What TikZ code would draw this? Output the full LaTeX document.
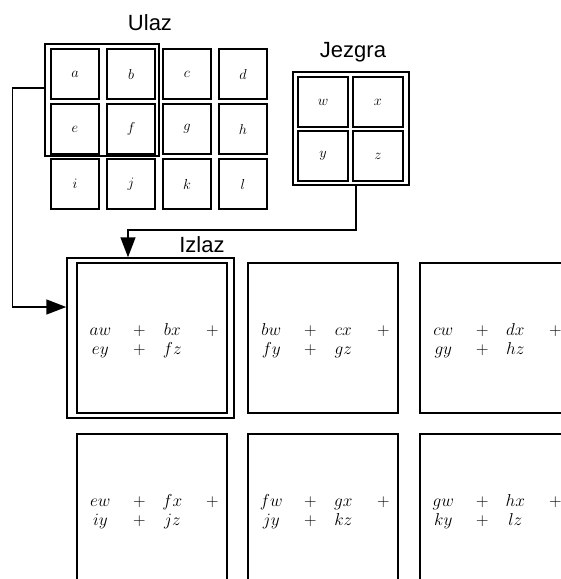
\documentclass[tikz,border=0pt]{standalone}
\usepackage{fontspec}
\newfontfamily\lblfont{Liberation Sans}
\usetikzlibrary{arrows.meta}
\newcommand{\outrow}[3]{\makebox[48pt]{$#1$}\makebox[30pt]{$+$}\makebox[36pt]{$#2$}\makebox[44pt]{$#3$}}
\tikzset{
  cellbox/.style={draw, line width=1.8pt, minimum width=48pt, minimum height=50pt, inner sep=0pt, font=\fontsize{14.5}{16}\selectfont},
  kcell/.style={cellbox, minimum width=50pt},
  framebox/.style={draw, line width=1.5pt, inner sep=0pt},
  outbox/.style={draw, line width=1.7pt, minimum width=150pt, minimum height=150pt, inner sep=0pt},
  outtext/.style={anchor=west, align=left, inner sep=0pt, font=\fontsize{16}{19}\selectfont},
  lbl/.style={anchor=base, inner sep=0pt, font=\lblfont\fontsize{22}{26}\selectfont},
  conn/.style={line width=1.5pt, -{Triangle[length=20pt,width=15pt]}}
}
\begin{document}
\begin{tikzpicture}[x=1pt, y=-1pt]
\useasboundingbox (0,0) rectangle (561,579);
\clip (0,0) rectangle (561,579);
% labels
\node[lbl] (lu) at (150,30) {Ulaz};
\node[lbl] (lj) at (353,57) {Jezgra};
\node[lbl] (li) at (202,252) {Izlaz};
% input cells
\node[cellbox] (a) at (75,74) {$a$};
\node[cellbox] (b) at (131,74) {$b$};
\node[cellbox] (c) at (187,74) {$c$};
\node[cellbox] (d) at (243,74) {$d$};
\node[cellbox] (e) at (75,129) {$e$};
\node[cellbox] (f) at (131,129) {$f$};
\node[cellbox] (g) at (187,129) {$g$};
\node[cellbox] (h) at (243,129) {$h$};
\node[cellbox] (i) at (75,184) {$i$};
\node[cellbox] (j) at (131,184) {$j$};
\node[cellbox] (k) at (187,184) {$k$};
\node[cellbox] (l) at (243,184) {$l$};
\node[framebox, minimum width=114pt, minimum height=112pt] (hl) at (102,100) {};
% kernel
\node[framebox, minimum width=116pt, minimum height=113pt] (kf) at (351,128.5) {};
\node[kcell] (kw) at (323,102) {$w$};
\node[kcell] (kx) at (378,102) {$x$};
\node[kcell] (ky) at (323,156) {$y$};
\node[kcell] (kz) at (378,156) {$z$};
% output
\node[framebox, minimum width=167pt, minimum height=160pt] (of) at (150.5,338) {};
\node[outbox] (o1) at (152,338) {};
\node[outbox] (o2) at (323,338) {};
\node[outbox] (o3) at (495,338) {};
\node[outbox] (o4) at (152,509) {};
\node[outbox] (o5) at (323,509) {};
\node[outbox] (o6) at (495,509) {};
\node[outtext] (t1) at ([yshift=-3pt]o1.west) {\outrow{aw}{bx}{+}\\\outrow{ey}{fz}{}};
\node[outtext] (t2) at ([yshift=-3pt]o2.west) {\outrow{bw}{cx}{+}\\\outrow{fy}{gz}{}};
\node[outtext] (t3) at ([yshift=-3pt]o3.west) {\outrow{cw}{dx}{+}\\\outrow{gy}{hz}{}};
\node[outtext] (t4) at ([yshift=-3pt]o4.west) {\outrow{ew}{fx}{+}\\\outrow{iy}{jz}{}};
\node[outtext] (t5) at ([yshift=-3pt]o5.west) {\outrow{fw}{gx}{+}\\\outrow{jy}{kz}{}};
\node[outtext] (t6) at ([yshift=-3pt]o6.west) {\outrow{gw}{hx}{+}\\\outrow{ky}{lz}{}};
% connectors
\draw[conn] ([yshift=12pt]hl.west) -- ++(-32,0) |- ([yshift=31pt]of.west);
\draw[conn] ([xshift=5pt]kf.south) -- ++(0,44) -| ([xshift=-22.5pt]of.north);
\end{tikzpicture}
\end{document}
